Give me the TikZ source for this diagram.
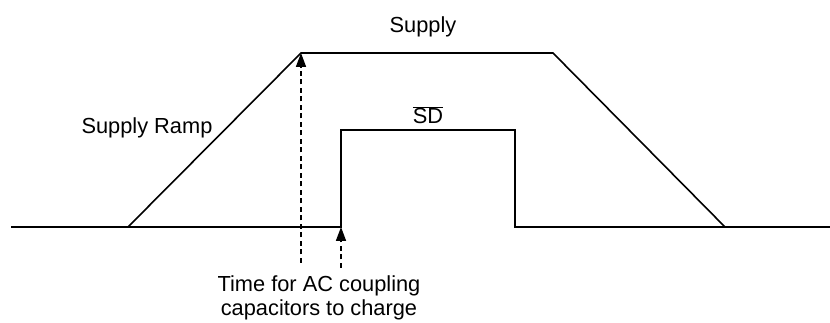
\documentclass[tikz,border=0pt]{standalone}
\usepackage{fontspec}
\setmainfont{Liberation Sans}
\usetikzlibrary{arrows.meta}
\begin{document}
\begin{tikzpicture}[x=1pt,y=1pt,
  trace/.style={line width=1.6pt, line join=miter},
  guide/.style={line width=1.6pt, dash pattern=on 5pt off 3.5pt, -{Triangle[length=14pt,width=10pt]}},
  lbl/.style={inner sep=0pt, font=\fontsize{21.8}{24}\selectfont}]
\useasboundingbox (0,0) rectangle (830,323);
% supply trace
\coordinate (s0) at (11,96);
\coordinate (s1) at (128,96);
\coordinate (s2) at (301,270);
\coordinate (s3) at (553,270);
\coordinate (s4) at (725,96);
\coordinate (s5) at (830,96);
\draw[trace] (s0) -- (s1) -- (s2) -- (s3) -- (s4) -- (s5);
% SD trace
\coordinate (d0) at (341,96);
\coordinate (d1) at (341,193);
\coordinate (d2) at (515,193);
\coordinate (d3) at (515,96);
\draw[trace] (s1) -- (d0) -- (d1) -- (d2) -- (d3) -- (s4);
% guide arrows
\coordinate (g1) at (301,60);
\coordinate (g2) at (341,55);
\draw[guide] (g1) -- (s2);
\draw[guide] (g2) -- (d0);
% labels
\node[lbl] (supply) at (423,296) {Supply};
\node[lbl] (sd) at (428,208) {$\overline{\mbox{SD}}$};
\node[lbl] (ramp) at (147,195) {Supply Ramp};
\node[lbl, align=center, anchor=north] (time) at (319,47) {Time for AC coupling\\capacitors to charge};
\end{tikzpicture}
\end{document}
